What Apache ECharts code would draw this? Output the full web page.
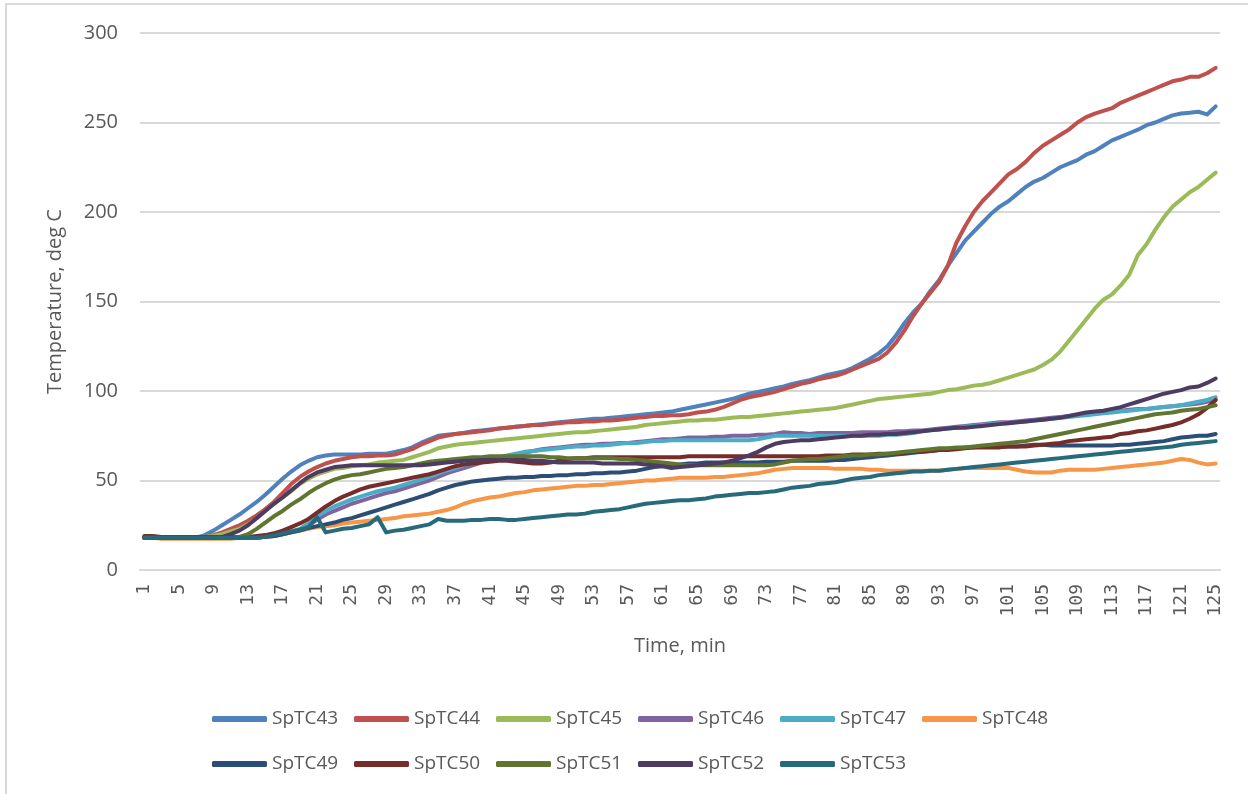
<!DOCTYPE html>
<html>
<head>
<meta charset="utf-8">
<title>SpTC temperatures</title>
<script src="https://cdn.jsdelivr.net/npm/echarts@6/dist/echarts.min.js"></script>
<style>
  html, body { margin: 0; padding: 0; background: #ffffff; }
  #chart { width: 1248px; height: 794px; }
</style>
</head>
<body>
<div id="chart"></div>
<script>
// Time axis: one reading per minute, 1..125
const minutes = Array.from({ length: 125 }, (_, i) => String(i + 1));

// Thermocouple readings, deg C (one value per minute)
const SpTC43 = [
  18, 18, 18, 18, 18, 18, 18, 19.5, 22, 25,
  28, 31, 34.5, 38, 42, 46.5, 51, 55, 58.5, 61,
  63, 64, 64.5, 64.5, 64.5, 64.5, 65, 65, 65, 66,
  67, 68.5, 71, 73, 75, 75.5, 76, 76.5, 77.5, 78,
  78.5, 79, 79.5, 80, 80.5, 81, 81.5, 82, 82.5, 83,
  83.5, 84, 84.5, 84.5, 85, 85.5, 86, 86.5, 87, 87.5,
  88, 88.5, 89.5, 90.5, 91.5, 92.5, 93.5, 94.5, 95.5, 97,
  98.5, 99.5, 100.5, 101.5, 102.5, 104, 105, 106, 107.5, 109,
  110, 111, 113, 115.5, 118, 121, 125, 131, 138, 144,
  149, 156, 162, 170, 177, 184, 189, 194, 199, 203,
  206, 210, 214, 217, 219, 222, 225, 227, 229, 232,
  234, 237, 240, 242, 244, 246, 248.5, 250, 252, 254,
  255, 255.5, 256, 254.5, 259
];
const SpTC44 = [
  18, 18, 18, 18, 18, 18, 18, 18.5, 19.5, 21,
  23, 25, 27.5, 30.5, 34, 38, 43, 48, 52, 55,
  57.5, 59.5, 61, 62, 63, 63.5, 63.5, 64, 64, 64.5,
  66, 67.5, 70, 72, 74, 75, 76, 76.5, 77, 77.5,
  78, 79, 79.5, 80, 80.5, 81, 81, 81.5, 82, 82.5,
  82.5, 83, 83, 83.5, 83.5, 84, 84.5, 85, 85.5, 86,
  86, 86.5, 86.5, 87, 88, 88.5, 89.5, 91, 93, 95,
  96.5, 97.5, 98.5, 99.5, 101, 102.5, 104, 105, 106.5, 107.5,
  108.5, 110, 112, 114, 116, 118, 121.5, 127, 134, 142,
  149, 155, 161, 170, 183, 192, 200, 206, 211, 216,
  221, 224, 228, 233, 237, 240, 243, 246, 250, 253,
  255, 256.5, 258, 261, 263, 265, 267, 269, 271, 273,
  274, 275.5, 275.5, 277.5, 280.5
];
const SpTC45 = [
  18, 18, 18, 18, 18, 18, 18, 18.5, 19, 20,
  21.5, 23, 25.5, 29, 33, 37, 40.5, 44, 48, 51,
  53.5, 55, 56.5, 57, 58, 58.5, 59, 60, 60.5, 61,
  61.5, 63, 64.5, 66, 68, 69, 70, 70.5, 71, 71.5,
  72, 72.5, 73, 73.5, 74, 74.5, 75, 75.5, 76, 76.5,
  77, 77, 77.5, 78, 78.5, 79, 79.5, 80, 81, 81.5,
  82, 82.5, 83, 83.5, 83.5, 84, 84, 84.5, 85, 85.5,
  85.5, 86, 86.5, 87, 87.5, 88, 88.5, 89, 89.5, 90,
  90.5, 91.5, 92.5, 93.5, 94.5, 95.5, 96, 96.5, 97, 97.5,
  98, 98.5, 99.5, 100.5, 101, 102, 103, 103.5, 104.5, 106,
  107.5, 109, 110.5, 112, 114.5, 117.5, 122, 128, 134, 140,
  146, 151, 154, 159, 165, 176, 182, 190, 197, 203,
  207, 211, 214, 218, 222
];
const SpTC46 = [
  18, 18, 18, 18, 18, 18, 18, 18, 18, 18,
  18, 18, 18, 18, 18.5, 19, 20, 21, 22.5, 25,
  28, 31, 33, 35, 37, 38.5, 40, 41.5, 43, 44,
  45.5, 47, 48.5, 50, 52, 54, 55.5, 57, 58.5, 60,
  61.5, 62.5, 63.5, 64.5, 65.5, 66.5, 67.5, 68, 68.5, 69,
  69.5, 70, 70, 70.5, 70.5, 71, 71, 71.5, 72, 72.5,
  73, 73, 73.5, 74, 74, 74, 74.5, 74.5, 75, 75,
  75, 75.5, 75.5, 76, 77, 76.5, 76.5, 76, 76.5, 76.5,
  76.5, 76.5, 76.5, 77, 77, 77, 77, 77.5, 77.5, 78,
  78, 78.5, 79, 79.5, 80, 80.5, 81, 81.5, 82, 82.5,
  82.5, 83, 83.5, 84, 84.5, 85, 85.5, 86, 86.5, 87,
  87.5, 88, 88.5, 89, 89.5, 90, 90, 90.5, 91, 91.5,
  92, 92.5, 93, 94, 95
];
const SpTC47 = [
  18, 18, 18, 18, 18, 18, 18, 18, 18, 18,
  18, 18, 18, 18, 18.5, 19, 20, 21.5, 23, 26,
  30, 33, 35.5, 37.5, 39.5, 41, 42.5, 44, 45, 46,
  47.5, 49, 50.5, 52, 54, 55.5, 57, 58.5, 59.5, 61,
  62, 63, 64, 65, 66, 66.5, 67, 67.5, 68, 68.5,
  69, 69, 69.5, 69.5, 70, 70.5, 71, 71, 71.5, 72,
  72, 72.5, 72.5, 72.5, 72.5, 72.5, 72.5, 72.5, 72.5, 72.5,
  72.5, 73, 74, 75, 75, 75, 75, 75, 75, 75,
  75, 75, 75, 75, 75, 75, 75.5, 75.5, 76, 76.5,
  77.5, 78, 78.5, 79, 79.5, 80, 80.5, 81, 81.5, 82,
  82, 82.5, 83, 83.5, 84, 84.5, 85, 85.5, 86, 86.5,
  87, 87.5, 88, 88.5, 89, 89.5, 90, 90.5, 91, 91.5,
  92, 93, 94, 95, 96.5
];
const SpTC48 = [
  18, 18, 17.5, 17.5, 17.5, 17.5, 17.5, 17.5, 17.5, 17.5,
  17.5, 18, 18, 18.5, 19, 19.5, 20.5, 21, 22, 23,
  24, 24.5, 25, 26, 26.5, 27, 27.5, 28, 28.5, 29,
  30, 30.5, 31, 31.5, 32.5, 33.5, 35, 37, 38.5, 39.5,
  40.5, 41, 42, 43, 43.5, 44.5, 45, 45.5, 46, 46.5,
  47, 47, 47.5, 47.5, 48, 48.5, 49, 49.5, 50, 50,
  50.5, 51, 51.5, 51.5, 51.5, 51.5, 52, 52, 52.5, 53,
  53.5, 54, 55, 56, 56.5, 57, 57, 57, 57, 57,
  56.5, 56.5, 56.5, 56.5, 56, 56, 55.5, 55.5, 55.5, 55.5,
  55.5, 55.5, 55.5, 56, 56.5, 57, 57, 57, 57, 57,
  57, 56, 55, 54.5, 54.5, 54.5, 55.5, 56, 56, 56,
  56, 56.5, 57, 57.5, 58, 58.5, 59, 59.5, 60, 61,
  62, 61.5, 60, 59, 59.5
];
const SpTC49 = [
  18, 18, 18, 18, 18, 18, 18, 18, 18, 18,
  18, 18, 18, 18, 18.5, 19, 20, 21, 22, 23.5,
  24.5, 25.5, 26.5, 28, 29, 30.5, 32, 33.5, 35, 36.5,
  38, 39.5, 41, 42.5, 44.5, 46, 47.5, 48.5, 49.5, 50,
  50.5, 51, 51.5, 51.5, 52, 52, 52.5, 52.5, 53, 53,
  53.5, 53.5, 54, 54, 54.5, 54.5, 55, 55.5, 56.5, 57.5,
  58, 58.5, 59, 59.5, 59.5, 60, 60, 60, 60, 60,
  60, 60, 60.5, 60.5, 60.5, 61, 61, 61, 61, 61,
  61.5, 61.5, 62, 62.5, 63, 63.5, 64, 64.5, 65, 65.5,
  66, 66.5, 67, 67.5, 68, 68.5, 68.5, 69, 69, 69,
  69, 69, 69.5, 70, 70, 69.5, 69.5, 69.5, 69.5, 69.5,
  69.5, 69.5, 69.5, 70, 70, 70.5, 71, 71.5, 72, 73,
  74, 74.5, 75, 75, 76
];
const SpTC50 = [
  19, 19, 18.5, 18.5, 18.5, 18.5, 18.5, 18.5, 18.5, 18.5,
  18.5, 18.5, 18.5, 19, 19.5, 20.5, 22, 24, 26, 28.5,
  32, 35.5, 38.5, 41, 43, 45, 46.5, 47.5, 48.5, 49.5,
  50.5, 51.5, 52.5, 53.5, 55, 56.5, 58, 59, 59.5, 60,
  60.5, 61, 61, 60.5, 60, 59.5, 59.5, 60, 61, 62,
  62.5, 62.5, 63, 63, 63, 63, 63, 63, 63, 63,
  63, 63, 63, 63.5, 63.5, 63.5, 63.5, 63.5, 63.5, 63.5,
  63.5, 63.5, 63.5, 63.5, 63.5, 63.5, 63.5, 63.5, 63.5, 64,
  64, 64, 64.5, 64.5, 64.5, 65, 65, 65, 65.5, 66,
  66, 66.5, 67, 67, 67.5, 68, 68.5, 68.5, 68.5, 68.5,
  69, 69, 69, 69.5, 70, 70.5, 71, 72, 72.5, 73,
  73.5, 74, 74.5, 76, 76.5, 77.5, 78, 79, 80, 81,
  82.5, 84.5, 87, 90.5, 95
];
const SpTC51 = [
  18, 18, 18, 18, 18, 18, 18, 18, 18, 18,
  18, 18.5, 20, 23, 26.5, 30, 33, 36.5, 39.5, 43,
  46, 48.5, 50.5, 52, 53, 53.5, 54.5, 55.5, 56.5, 57,
  57.5, 58.5, 59.5, 60.5, 61, 61.5, 62, 62.5, 63, 63,
  63.5, 63.5, 63.5, 63.5, 63.5, 63.5, 63.5, 63, 63, 62.5,
  62.5, 62.5, 62.5, 62.5, 62.5, 62, 62, 61.5, 61, 60.5,
  60, 59.5, 59, 58.5, 58.5, 58.5, 58.5, 58.5, 58.5, 58.5,
  58.5, 58.5, 58.5, 59, 60, 61, 61.5, 62, 62, 62.5,
  63, 63.5, 64, 64, 64.5, 64.5, 65, 65.5, 66, 66.5,
  67, 67.5, 68, 68, 68.5, 68.5, 69, 69.5, 70, 70.5,
  71, 71.5, 72, 73, 74, 75, 76, 77, 78, 79,
  80, 81, 82, 83, 84, 85, 86, 87, 87.5, 88,
  89, 89.5, 90, 91, 92
];
const SpTC52 = [
  18, 18, 18, 18, 18, 18, 18, 18, 18, 18.5,
  20, 22, 25, 29, 33, 37, 40.5, 44.5, 48.5, 52,
  54.5, 56, 57.5, 58, 58.5, 58.5, 58.5, 58.5, 58.5, 58.5,
  58.5, 58.5, 58.5, 59, 59.5, 60, 60.5, 61, 61, 61.5,
  61.5, 61.5, 61.5, 61.5, 61.5, 61, 61, 60.5, 60, 60,
  60, 60, 60, 59.5, 59.5, 59.5, 59.5, 59.5, 59, 58.5,
  58, 57, 57.5, 58, 58.5, 59, 59.5, 60, 61, 62.5,
  64, 66, 68.5, 70.5, 71.5, 72, 72.5, 72.5, 73, 73.5,
  74, 74.5, 75, 75, 75.5, 75.5, 76, 76, 76.5, 77,
  77.5, 78, 78.5, 79, 79.5, 79.5, 80, 80.5, 81, 81.5,
  82, 82.5, 83, 83.5, 84, 84.5, 85, 86, 87, 88,
  88.5, 89, 90, 91, 92.5, 94, 95.5, 97, 98.5, 99.5,
  100.5, 102, 102.5, 104.5, 107
];
const SpTC53 = [
  18, 18, 18, 18, 18, 18, 18, 18, 18, 18,
  18, 18, 18, 18, 18.5, 19.5, 20.5, 21.5, 22.5, 24,
  29.5, 21, 22, 23, 23.5, 24.5, 25.5, 29.5, 21, 22,
  22.5, 23.5, 24.5, 25.5, 28.5, 27.5, 27.5, 27.5, 28, 28,
  28.5, 28.5, 28, 28, 28.5, 29, 29.5, 30, 30.5, 31,
  31, 31.5, 32.5, 33, 33.5, 34, 35, 36, 37, 37.5,
  38, 38.5, 39, 39, 39.5, 40, 41, 41.5, 42, 42.5,
  43, 43, 43.5, 44, 45, 46, 46.5, 47, 48, 48.5,
  49, 50, 51, 51.5, 52, 53, 53.5, 54, 54.5, 55,
  55, 55.5, 55.5, 56, 56.5, 57, 57.5, 58, 58.5, 59,
  59.5, 60, 60.5, 61, 61.5, 62, 62.5, 63, 63.5, 64,
  64.5, 65, 65.5, 66, 66.5, 67, 67.5, 68, 68.5, 69,
  70, 70.5, 71, 71.5, 72
];

const seriesNames = ['SpTC43', 'SpTC44', 'SpTC45', 'SpTC46', 'SpTC47', 'SpTC48',
                     'SpTC49', 'SpTC50', 'SpTC51', 'SpTC52', 'SpTC53'];
const seriesValues = [SpTC43, SpTC44, SpTC45, SpTC46, SpTC47, SpTC48,
                      SpTC49, SpTC50, SpTC51, SpTC52, SpTC53];
const seriesColors = ['#4F81BD', '#C0504D', '#9BBB59', '#8064A2', '#4BACC6', '#F79646',
                      '#2C4D75', '#772C2A', '#5F7530', '#4D3B62', '#276A7C'];

const yTicks = { min: 0, max: 300, step: 50 };

const textColor = '#595959';
const uiFont = '"Open Sans", "Noto Sans", sans-serif';

const chart = echarts.init(document.getElementById('chart'), null, { renderer: 'canvas' });

function legendRow(names, top) {
  return {
    data: names,
    left: 207,
    top: top,
    orient: 'horizontal',
    icon: 'roundRect',
    itemWidth: 55,
    itemHeight: 6,
    itemGap: 7,
    selectedMode: false,
    textStyle: {
      color: textColor,
      fontFamily: uiFont,
      fontSize: 19,
      width: 75,
      lineHeight: 22
    }
  };
}

chart.setOption({
  animation: false,
  backgroundColor: '#ffffff',
  color: seriesColors,
  grid: { left: 140, right: 28, top: 33, bottom: 224, containLabel: false },
  legend: [
    legendRow(seriesNames.slice(0, 6), 703),
    legendRow(seriesNames.slice(6), 748)
  ],
  xAxis: {
    type: 'category',
    data: minutes,
    boundaryGap: true,
    name: 'Time, min',
    nameLocation: 'middle',
    nameGap: 66,
    nameTextStyle: { color: textColor, fontFamily: uiFont, fontSize: 20 },
    axisLine: { show: true, lineStyle: { color: '#D9D9D9', width: 2 } },
    axisTick: { show: false },
    axisLabel: {
      interval: 3,
      rotate: 90,
      margin: 14,
      color: textColor,
      fontFamily: '"DejaVu Sans Mono", monospace',
      fontSize: 18
    },
    splitLine: { show: false }
  },
  yAxis: {
    type: 'value',
    min: yTicks.min,
    max: yTicks.max,
    interval: yTicks.step,
    name: 'Temperature, deg C',
    nameLocation: 'middle',
    nameGap: 75,
    nameTextStyle: { color: textColor, fontFamily: uiFont, fontSize: 20 },
    axisLine: { show: false },
    axisTick: { show: false },
    axisLabel: { color: textColor, fontFamily: uiFont, fontSize: 20, margin: 22 },
    splitLine: { show: true, lineStyle: { color: '#D9D9D9', width: 2 } }
  },
  series: seriesNames.map((name, i) => ({
    name: name,
    type: 'line',
    data: seriesValues[i],
    showSymbol: false,
    symbol: 'none',
    smooth: false,
    lineStyle: { width: 4, color: seriesColors[i], cap: 'round', join: 'round' },
    itemStyle: { color: seriesColors[i] },
    emphasis: { disabled: true }
  })),
  graphic: [
    {
      type: 'polyline',
      silent: true,
      shape: { points: [[6, 800], [6, 4], [1260, 4]] },
      style: { stroke: '#D9D9D9', lineWidth: 2, fill: null }
    }
  ]
});
</script>
</body>
</html>
